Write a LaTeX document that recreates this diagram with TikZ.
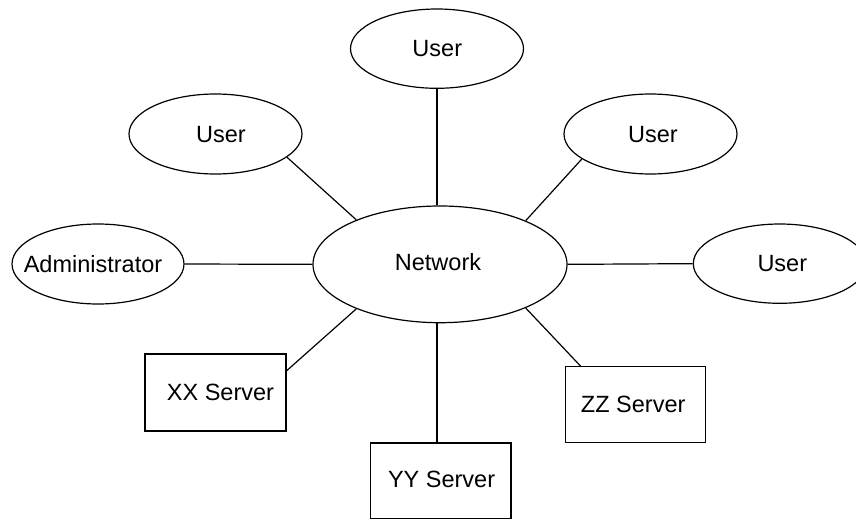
\documentclass[tikz,border=0pt]{standalone}
\usepackage{fontspec}
\setmainfont{Liberation Sans}
\usetikzlibrary{shapes.geometric}
\tikzset{
  ell/.style={draw, ellipse, inner sep=0pt, minimum width=173pt, minimum height=80pt},
  srv/.style={draw, rectangle, inner sep=0pt, minimum width=140pt, minimum height=76pt},
  lbl/.style={font=\fontsize{23.5}{28}\selectfont, inner sep=0pt, text=black},
  every label/.style={lbl},
  conn/.style={draw=black, line width=1.2pt}
}
\begin{document}
\begin{tikzpicture}[x=1pt, y=-1pt, line width=1.2pt]
\clip (0,0) rectangle (856,519);
\node[ell, minimum height=79.3pt, label={[xshift=0.3pt]center:User}] (userT) at (437,48.65) {};
\node[ell, label={[xshift=5.5pt, yshift=-1pt]center:User}] (userL) at (215.5,134) {};
\node[ell, label={[xshift=2.5pt, yshift=-1pt]center:User}] (userR1) at (650.5,134) {};
\node[ell, minimum width=172pt, label={[xshift=-5pt]center:Administrator}] (admin) at (98,264) {};
\node[ell, minimum width=254pt, minimum height=116.7pt, label={[xshift=-2pt, yshift=2pt]center:Network}] (net) at (440,264.35) {};
\node[ell, minimum height=79.3pt, label={[xshift=2.5pt]center:User}] (userR2) at (779.8,263.65) {};
\node[srv, minimum width=141pt, minimum height=77pt, label={[xshift=5pt]center:XX Server}] (xx) at (215.5,392.5) {};
\node[srv, minimum width=140.3pt, minimum height=75.5pt, label={[xshift=0.7pt, yshift=1pt]center:YY Server}] (yy) at (440.85,480.75) {};
\node[srv, label={[xshift=-2.5pt]center:ZZ Server}] (zz) at (635.7,404.7) {};

\draw[conn] (userT.south) -- (userT.south |- net.north);
\draw[conn] (userL.-18.8) -- (net.152.2);
\draw[conn] (userR1.200) -- (net.27.8);
\draw[conn] (admin.east) -- (net.west);
\draw[conn] (net.east) -- (userR2.west);
\draw[conn] (net.208.1) -- (xx.17.7);
\draw[conn] (net.south -| userT.south) -- (userT.south |- yy.north);
\draw[conn] (net.-27.3) -- (zz.145.2);
\end{tikzpicture}
\end{document}
